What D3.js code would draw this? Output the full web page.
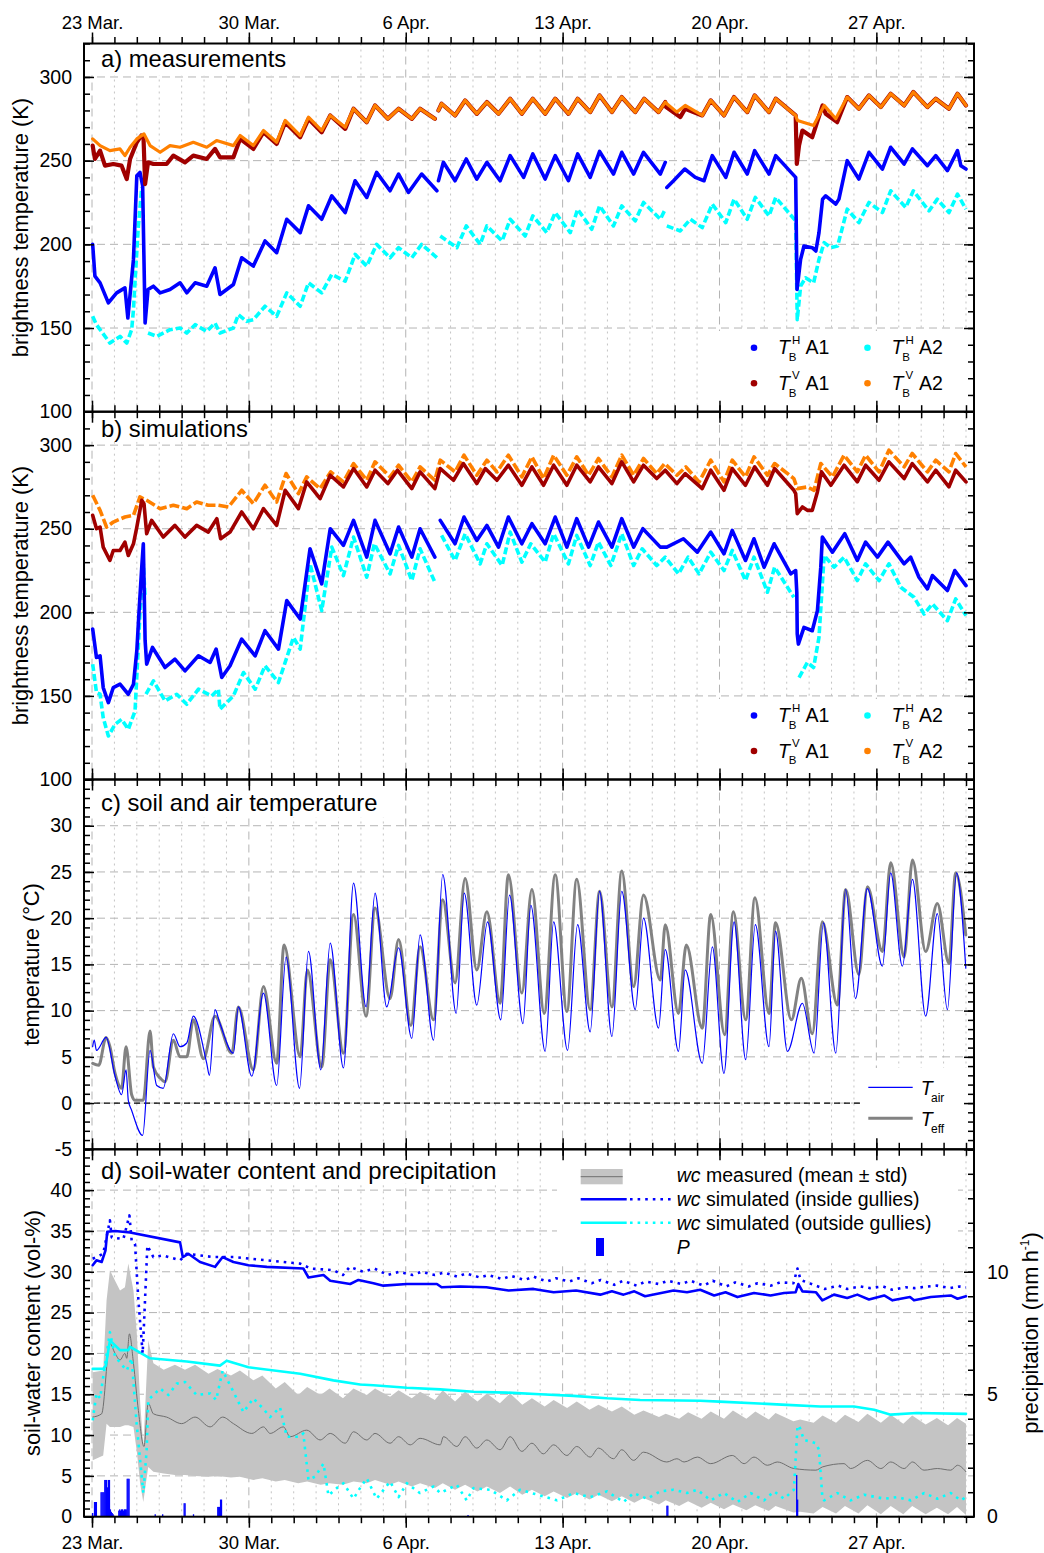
<!DOCTYPE html>
<html>
<head>
<meta charset="utf-8">
<script src="https://cdn.jsdelivr.net/npm/d3@7"></script>
<style>
  body { margin: 0; background: #fff; }
  svg { font-family: "Liberation Sans", Arial, Helvetica, sans-serif; }
</style>
</head>
<body>
<svg id="chart" width="1044" height="1553"></svg>
<script>
// time is given in days since 23 Mar 00:00
// a) measured brightness temperature (K)
var measH_A1 = [[0.03,200],[0.13,181],[0.36,177],[0.73,165],[1.1,171],[1.47,174],[1.6,156],[1.85,191],[2.0,241],[2.14,243],[2.26,235],[2.37,153],[2.5,173],[2.74,175],[3.04,171],[3.48,173],[3.93,177],[4.23,171],[4.6,177],[5.12,175],[5.49,186],[5.71,170],[6.31,176],[6.68,192],[7.2,187],[7.72,202],[8.24,195],[8.69,215],[9.29,207],[9.66,223],[10.25,215],[10.7,229],[11.3,219],[11.74,238],[12.26,228],[12.7,243],[13.3,232],[13.68,242],[14.12,231],[14.71,242],[15.39,232],[15.42,null],[15.46,238],[15.68,249],[16.2,238],[16.7,251],[17.17,239],[17.62,249],[18.21,238],[18.66,253],[19.26,240],[19.67,254],[20.22,239],[20.67,253],[21.26,238],[21.67,254],[22.23,240],[22.65,255.5],[23.27,242],[23.64,255],[24.17,242],[24.61,255],[25.36,242],[25.58,249],[25.62,null],[25.65,234],[25.95,238],[26.45,245],[26.92,240],[27.31,238],[27.68,253],[28.28,240],[28.65,255],[29.24,242],[29.57,256],[30.21,242],[30.51,253],[31.4,240],[31.46,173],[31.62,191],[31.77,199],[32.14,198],[32.3,196],[32.44,207],[32.6,227],[32.74,229],[33.19,224],[33.33,227],[33.7,250],[34.22,239],[34.67,255],[35.27,245],[35.64,258],[36.24,248],[36.61,257],[37.28,247],[37.65,253],[38.17,244],[38.62,256],[38.77,247],[39.0,245]];
var measH_A2 = [[0.03,157],[0.2,152],[0.8,141],[1.25,145],[1.55,141],[1.77,149],[1.85,161],[1.96,187],[2.07,211],[2.22,234],[2.3,null],[2.5,147],[2.89,145],[3.48,149],[3.93,150],[4.23,147],[4.6,152],[5.12,148],[5.49,153],[5.71,147],[6.31,150],[6.53,158],[6.9,154],[7.2,155],[7.72,163],[8.24,157],[8.69,171],[9.29,163],[9.66,177],[10.25,171],[10.7,182],[11.3,178],[11.74,194],[12.26,187],[12.7,200],[13.3,192],[13.68,198],[14.27,192],[14.71,200],[15.39,192],[15.45,null],[15.54,205],[16.28,198],[16.7,211],[17.32,200],[17.62,211],[18.3,202],[18.66,215],[19.33,205],[19.67,217],[20.29,207],[20.67,219],[21.34,207],[21.67,221],[22.3,209],[22.65,223],[23.27,211],[23.64,223],[24.24,214],[24.61,225],[25.36,215],[25.58,221],[25.62,null],[25.65,211],[26.25,208],[26.7,215],[27.23,210],[27.68,224],[28.28,213],[28.65,227],[29.24,215],[29.6,228],[30.21,217],[30.51,228],[31.4,214],[31.47,155],[31.62,175],[31.84,180],[32.2,177],[32.44,191],[32.67,201],[32.97,198],[33.27,199],[33.7,221],[34.22,213],[34.67,225],[35.27,219],[35.64,232],[36.31,222],[36.65,232],[37.35,220],[37.72,227],[38.24,219],[38.62,230],[39.0,221]];
var measV_A1 = [[0.03,259],[0.13,251],[0.36,256],[0.58,247],[0.95,248],[1.32,247],[1.55,239],[1.7,251],[2.0,261],[2.2,265],[2.3,263],[2.37,236],[2.5,249],[2.74,248],[3.33,248],[3.63,253],[4.15,249],[4.52,253],[5.12,251],[5.49,257],[5.71,252],[6.31,252],[6.61,263],[7.2,257],[7.65,267],[8.24,260],[8.62,273],[9.29,264],[9.66,275],[10.25,267],[10.63,277],[11.3,269],[11.67,281],[12.26,273],[12.63,283],[13.2,275],[13.68,281],[14.27,275],[14.64,281],[15.3,275],[15.4,null],[15.46,280],[15.6,284],[16.2,277],[16.65,286],[17.17,278],[17.62,285],[18.14,278],[18.66,287],[19.18,278],[19.67,287],[20.22,278],[20.67,287],[21.26,278],[21.67,287],[22.23,279],[22.65,289],[23.2,279],[23.64,288],[24.24,279],[24.64,287],[25.28,279],[25.58,285],[25.62,282],[26.25,276],[26.47,281],[27.23,277],[27.61,286],[28.2,277],[28.65,288],[29.24,279],[29.57,289],[30.21,279],[30.51,287],[31.4,277],[31.45,248],[31.55,259],[31.7,268],[32.14,264],[32.6,283],[32.74,278],[33.25,273],[33.7,288],[34.22,281],[34.67,289],[35.2,282],[35.64,290],[36.24,283],[36.65,291],[37.28,282],[37.65,287],[38.24,281],[38.62,290],[39.0,283]];
var measV_A2 = [[0.03,263],[0.36,259],[0.8,256],[1.25,257],[1.47,253],[1.7,258],[2.0,263],[2.32,266],[2.59,259],[3.04,255],[3.48,259],[3.93,258],[4.52,261],[5.12,258],[5.56,262],[6.31,259],[6.61,265],[7.2,259],[7.65,268],[8.24,261],[8.62,274],[9.29,265],[9.66,276],[10.25,268],[10.63,277],[11.3,270],[11.67,281],[12.26,273],[12.63,283],[13.2,275],[13.68,281],[14.27,275],[14.64,281],[15.3,275],[15.4,null],[15.46,280],[15.6,284],[16.2,277],[16.65,286],[17.17,278],[17.62,285],[18.14,278],[18.66,287],[19.18,278],[19.67,287],[20.22,278],[20.67,287],[21.26,278],[21.67,287],[22.23,279],[22.65,289],[23.2,279],[23.64,288],[24.24,279],[24.64,287],[25.28,279],[25.58,285],[25.65,284],[26.1,279],[26.47,283],[27.23,277],[27.61,286],[28.2,277],[28.65,288],[29.24,279],[29.57,289],[30.21,279],[30.51,287],[31.4,277],[31.48,274],[32.2,271],[32.67,283],[33.19,275],[33.7,288],[34.22,281],[34.67,289],[35.2,282],[35.64,290],[36.24,283],[36.65,291],[37.28,282],[37.65,287],[38.24,281],[38.62,290],[39.0,283]];

// b) simulated brightness temperature (K)
var simH_A1 = [[0.03,190],[0.2,173],[0.36,174],[0.5,155],[0.73,146],[0.95,155],[1.25,157],[1.62,151],[1.85,157],[2.0,177],[2.11,203],[2.22,227],[2.29,241],[2.37,183],[2.44,169],[2.7,179],[3.26,167],[3.7,172],[4.15,165],[4.75,174],[5.27,170],[5.54,178],[5.79,161],[6.16,168],[6.68,184],[7.28,174],[7.72,189],[8.32,178],[8.69,207],[9.29,196],[9.73,238],[10.25,217],[10.63,250],[11.22,240],[11.67,255],[12.26,233],[12.63,255],[13.3,235],[13.68,251],[14.27,233],[14.64,250],[15.3,233],[15.42,null],[15.54,255],[16.2,241],[16.6,257],[17.17,243],[17.62,252],[18.14,239],[18.58,257],[19.18,241],[19.63,253],[20.22,241],[20.67,257],[21.19,239],[21.63,256],[22.16,239],[22.6,254],[23.2,239],[23.64,256],[24.17,239],[24.58,250],[25.36,239],[25.65,239],[26.39,244],[27.01,236],[27.61,248],[28.2,235],[28.57,249],[29.16,231],[29.54,244],[29.99,227],[30.44,241],[31.18,223],[31.4,225],[31.45,212],[31.47,187],[31.52,181],[31.77,191],[32.14,189],[32.37,201],[32.52,227],[32.59,245],[33.04,236],[33.59,247],[34.15,231],[34.52,242],[35.05,233],[35.52,242],[36.24,229],[36.53,233],[36.9,221],[37.28,214],[37.5,222],[38.17,213],[38.5,225],[39.0,216]];
var simH_A2 = [[0.03,169],[0.2,152],[0.36,151],[0.5,137],[0.73,126],[1.03,133],[1.32,136],[1.62,130],[1.92,141],[2.02,167],[2.14,199],[2.29,229],[2.37,209],[2.39,null],[2.41,151],[2.74,159],[3.26,147],[3.78,151],[4.23,145],[4.75,154],[5.34,150],[5.64,154],[5.71,142],[6.31,150],[6.76,164],[7.28,154],[7.72,168],[8.32,158],[8.99,185],[9.29,178],[9.73,229],[10.25,201],[10.7,239],[11.22,222],[11.67,245],[12.26,221],[12.6,241],[13.3,223],[13.68,240],[14.27,219],[14.64,238],[15.3,218],[15.42,null],[15.6,246],[16.2,231],[16.65,247],[17.32,229],[17.62,241],[18.3,228],[18.66,248],[19.18,230],[19.58,241],[20.22,230],[20.6,247],[21.26,229],[21.63,246],[22.23,228],[22.6,242],[23.15,228],[23.64,247],[24.17,228],[24.55,238],[25.2,228],[25.58,233],[26.17,223],[26.6,233],[27.09,223],[27.61,236],[28.2,225],[28.57,237],[29.16,219],[29.54,233],[30.14,212],[30.46,227],[31.32,209],[31.4,null],[31.55,161],[31.92,170],[32.2,167],[32.44,185],[32.67,234],[33.11,227],[33.56,233],[34.15,219],[34.52,229],[35.12,219],[35.56,229],[36.09,215],[36.68,209],[37.13,199],[37.5,205],[38.17,195],[38.54,208],[39.0,198]];
var simV_A1 = [[0.03,258],[0.2,250],[0.36,251],[0.5,239],[0.8,231],[0.95,237],[1.25,237],[1.47,242],[1.62,234],[1.85,241],[2.0,251],[2.22,267],[2.32,265],[2.44,247],[2.66,255],[3.18,245],[3.7,252],[4.15,245],[4.67,252],[5.19,248],[5.57,256],[5.74,244],[6.16,248],[6.68,260],[7.2,250],[7.65,262],[8.24,252],[8.62,273],[9.21,262],[9.58,278],[10.18,268],[10.63,282],[11.22,275],[11.67,286],[12.26,275],[12.63,285],[13.2,277],[13.63,285],[14.27,274],[14.64,284],[15.3,274],[15.54,286],[16.13,279],[16.57,289],[17.17,277],[17.55,286],[18.07,279],[18.58,288],[19.18,276],[19.63,287],[20.15,276],[20.6,288],[21.19,276],[21.63,288],[22.23,278],[22.6,287],[23.2,277],[23.64,290],[24.17,278],[24.61,288],[25.2,280],[25.58,285],[26.1,277],[26.47,283],[27.23,274],[27.61,285],[28.2,273],[28.57,286],[29.16,276],[29.57,287],[30.14,276],[30.46,286],[31.32,273],[31.4,271],[31.47,259],[31.7,263],[31.92,261],[32.14,261],[32.37,272],[32.55,284],[32.97,276],[33.56,288],[34.15,278],[34.52,288],[35.12,279],[35.56,290],[36.24,280],[36.6,289],[37.28,278],[37.65,285],[38.24,275],[38.54,285],[39.0,278]];
var simV_A2 = [[0.03,270],[0.36,261],[0.65,251],[0.95,254],[1.47,257],[1.85,258],[2.14,269],[2.44,267],[3.04,262],[3.63,264],[4.23,262],[4.67,266],[5.19,264],[5.64,264],[6.09,263],[6.68,273],[7.2,265],[7.72,276],[8.24,266],[8.66,283],[9.21,271],[9.58,281],[10.18,274],[10.65,284],[11.22,278],[11.67,289],[12.26,279],[12.63,290],[13.3,281],[13.68,288],[14.27,278],[14.64,287],[15.3,279],[15.54,291],[16.2,284],[16.6,294],[17.17,282],[17.62,291],[18.07,284],[18.58,294],[19.18,281],[19.63,293],[20.15,280],[20.6,294],[21.19,282],[21.63,293],[22.16,282],[22.6,292],[23.2,281],[23.64,294],[24.17,282],[24.61,292],[25.2,283],[25.55,289],[26.1,282],[26.5,287],[27.09,278],[27.61,291],[28.2,278],[28.57,291],[29.16,281],[29.54,293],[30.14,282],[30.46,289],[31.32,280],[31.47,274],[31.92,275],[32.22,273],[32.52,289],[33.04,281],[33.56,294],[34.15,284],[34.52,294],[35.12,284],[35.56,297],[36.24,287],[36.6,295],[37.28,284],[37.65,291],[38.24,284],[38.54,295],[39.0,287]];

// c) temperatures (°C)
var tEff = [[0.03,4.3],[0.3,4.1],[0.63,7.1],[0.8,6.1],[1.03,3.2],[1.32,1.6],[1.52,6.1],[1.77,0.9],[1.92,0.3],[2.29,0.3],[2.59,7.8],[2.74,3.9],[3.04,2.7],[3.26,2.3],[3.63,6.8],[3.93,5.0],[4.23,5.0],[4.52,9.0],[4.97,4.8],[5.49,9.4],[6.24,5.4],[6.53,10.4],[7.2,3.6],[7.65,12.6],[8.24,4.3],[8.57,17.1],[9.29,5.0],[9.61,14.4],[10.25,3.9],[10.63,15.5],[11.22,5.4],[11.67,20.4],[12.23,9.4],[12.63,21.1],[13.3,11.3],[13.68,17.7],[14.23,8.4],[14.64,16.9],[15.24,9.0],[15.65,22.0],[16.2,13.0],[16.65,24.3],[17.17,14.4],[17.62,20.7],[18.21,10.8],[18.58,24.7],[19.18,11.9],[19.63,23.1],[20.18,9.7],[20.67,24.7],[21.19,9.9],[21.63,24.2],[22.23,10.1],[22.65,22.9],[23.2,10.4],[23.64,25.1],[24.17,12.6],[24.61,22.5],[25.36,13.3],[25.58,19.3],[26.17,9.7],[26.52,17.1],[27.23,8.1],[27.61,20.4],[28.23,7.4],[28.62,20.7],[29.17,9.0],[29.58,22.2],[30.21,9.7],[30.5,19.5],[31.21,9.0],[31.65,13.5],[32.14,7.5],[32.59,19.6],[33.26,10.6],[33.63,23.1],[34.22,13.9],[34.6,23.4],[35.27,16.4],[35.64,26.0],[36.24,15.8],[36.61,26.3],[37.2,16.4],[37.72,21.6],[38.24,15.1],[38.54,24.9],[38.99,18.2]];
var tAir = [[0.03,6.1],[0.1,6.8],[0.2,5.7],[0.63,7.1],[1.03,2.9],[1.32,0.9],[1.52,3.6],[1.62,0.3],[1.77,-0.8],[2.26,-3.5],[2.59,5.7],[2.89,1.9],[3.18,1.6],[3.63,7.5],[3.93,6.1],[4.23,6.5],[4.52,9.4],[5.12,4.3],[5.24,3.0],[5.49,10.1],[5.71,8.6],[6.31,5.4],[6.53,10.4],[7.13,2.9],[7.65,11.9],[8.24,1.9],[8.66,15.8],[9.26,1.6],[9.66,16.4],[10.21,3.6],[10.63,17.3],[11.22,3.8],[11.67,23.8],[12.23,10.4],[12.63,22.7],[13.15,10.4],[13.68,16.8],[14.27,7.0],[14.64,18.2],[15.24,6.8],[15.65,24.7],[16.25,9.7],[16.61,22.7],[17.17,10.6],[17.65,19.6],[18.24,9.0],[18.63,22.5],[19.23,8.6],[19.58,21.4],[20.22,5.6],[20.6,19.6],[21.22,5.7],[21.67,19.3],[22.23,7.7],[22.65,22.9],[23.2,7.2],[23.64,22.9],[24.24,10.1],[24.61,20.0],[25.28,8.1],[25.58,16.6],[26.17,5.6],[26.47,14.4],[27.23,4.3],[27.68,16.9],[28.2,3.2],[28.65,19.6],[29.17,4.7],[29.6,19.3],[30.21,6.1],[30.5,18.6],[31.03,5.6],[31.7,10.8],[32.22,5.4],[32.64,19.5],[33.19,5.4],[33.63,23.1],[34.07,11.3],[34.6,23.2],[35.27,14.8],[35.64,24.9],[36.16,14.8],[36.61,24.2],[37.2,9.4],[37.72,20.5],[38.17,10.1],[38.58,24.9],[38.99,14.6]];

// d) soil-water content (vol-%): measured mean, std band [t, low, high], simulations
var wcMean = [[0.03,12.2],[0.43,12.6],[0.8,21.2],[1.03,20.0],[1.25,19.2],[1.47,20.0],[1.55,19.4],[1.67,22.4],[1.85,18.8],[2.07,13.0],[2.32,8.6],[2.51,13.9],[2.74,12.6],[3.33,12.2],[4.0,11.4],[4.6,12.2],[5.27,11.0],[5.83,12.2],[6.31,11.4],[7.13,10.2],[7.65,11.0],[7.95,10.2],[8.54,11.0],[8.84,9.8],[9.58,10.6],[10.18,9.4],[10.63,10.2],[11.3,9.0],[11.67,10.4],[12.26,9.4],[12.63,10.2],[13.3,9.0],[13.68,9.8],[14.2,8.8],[14.64,9.6],[15.54,8.8],[15.68,9.8],[16.28,8.6],[16.65,9.8],[17.17,8.4],[17.62,9.4],[18.21,8.2],[18.66,9.8],[19.18,8.0],[19.63,9.0],[20.14,7.7],[20.6,8.8],[21.19,7.5],[21.63,8.6],[22.23,7.3],[22.6,8.4],[23.27,7.1],[23.64,8.2],[24.17,6.9],[24.61,7.9],[25.65,6.7],[26.1,7.1],[26.42,6.7],[27.01,7.3],[27.61,6.5],[28.57,7.5],[29.1,6.5],[29.54,7.3],[30.14,6.3],[30.58,6.7],[31.32,5.9],[32.3,5.7],[32.6,6.1],[33.56,6.5],[33.85,5.9],[34.6,6.9],[35.2,5.9],[35.64,6.7],[36.24,5.9],[36.61,6.7],[37.13,5.7],[37.72,5.9],[38.32,5.7],[38.62,6.3],[39.0,5.5]];
var wcStd = [[0.03,6.9,17.7],[0.5,7.5,17.9],[0.65,11.4,26.5],[0.8,11.0,30.2],[1.03,11.0,28.9],[1.25,11.0,27.7],[1.47,11.2,28.1],[1.62,11.2,31.0],[1.85,11.0,27.7],[2.0,8.0,22.4],[2.15,4.0,14.0],[2.29,1.8,8.5],[2.4,4.0,15.0],[2.51,6.1,21.6],[2.74,5.5,18.8],[3.2,5.3,18.0],[3.7,5.1,18.6],[4.15,5.1,18.0],[4.6,5.0,18.6],[5.2,4.9,17.5],[5.6,5.0,18.1],[6.2,4.8,17.3],[6.6,4.9,17.9],[7.2,4.5,16.7],[7.6,4.7,17.3],[8.2,4.3,15.7],[8.6,4.5,16.5],[9.2,4.1,14.9],[9.6,4.3,15.9],[10.2,3.9,14.9],[10.6,4.1,15.7],[11.2,3.9,14.5],[11.67,4.3,15.7],[12.26,4.1,14.9],[12.63,4.5,15.7],[13.3,3.9,14.7],[13.68,4.3,15.5],[14.27,3.7,14.5],[14.64,4.1,15.3],[15.3,3.5,14.3],[15.65,4.1,15.5],[16.2,3.3,14.1],[16.65,3.9,15.3],[17.2,3.1,14.1],[17.62,3.7,15.1],[18.2,2.9,13.9],[18.66,3.7,15.1],[19.2,2.7,13.7],[19.63,3.3,14.5],[20.2,2.5,13.5],[20.6,3.1,14.3],[21.2,2.3,13.3],[21.63,2.9,14.1],[22.2,2.1,13.1],[22.6,2.7,13.7],[23.2,1.9,12.9],[23.64,2.5,13.5],[24.2,1.7,12.5],[24.61,2.3,13.0],[25.3,1.5,12.2],[25.6,2.0,12.6],[26.2,1.3,12.0],[26.6,1.9,12.8],[27.2,1.1,12.0],[27.61,1.7,12.9],[28.2,0.9,12.0],[28.6,1.5,13.0],[29.2,0.8,12.0],[29.6,1.4,12.9],[30.2,0.7,11.9],[30.5,1.3,12.7],[31.3,0.5,11.7],[31.6,0.6,11.9],[32.2,0.4,11.5],[32.6,1.2,12.4],[33.2,0.4,11.5],[33.6,1.3,12.5],[34.2,0.4,11.6],[34.6,1.4,12.6],[35.2,0.3,11.5],[35.64,1.3,12.5],[36.2,0.3,11.4],[36.6,1.3,12.4],[37.2,0.3,11.3],[37.7,1.1,12.1],[38.2,0.3,11.2],[38.6,1.2,12.1],[39.0,0.2,11.4]];
var wcInside = [[0.03,30.8],[0.2,31.4],[0.43,31.2],[0.6,32.6],[0.68,34.9],[1.03,35.0],[1.7,34.8],[3.93,33.6],[4.05,31.8],[4.3,32.2],[4.82,31.2],[5.49,30.6],[5.83,31.8],[6.31,31.2],[6.98,30.8],[7.8,30.6],[9.43,30.4],[9.66,29.3],[10.33,29.6],[10.63,28.9],[11.52,28.5],[11.89,29.0],[12.56,28.6],[13.0,28.3],[14.05,28.5],[15.39,28.5],[15.6,28.1],[16.43,28.2],[17.6,28.1],[18.59,27.7],[19.7,27.9],[20.6,27.5],[21.6,27.7],[22.68,27.2],[23.2,27.6],[23.72,27.2],[24.2,27.6],[24.68,27.0],[25.95,27.7],[26.55,27.5],[27.14,27.8],[27.76,27.1],[28.27,27.5],[28.8,26.9],[29.54,27.4],[30.28,27.1],[30.88,27.4],[31.4,27.5],[31.52,28.5],[31.7,27.6],[32.3,27.5],[32.59,26.5],[33.11,27.2],[33.7,26.8],[34.15,27.2],[34.67,26.6],[35.35,27.1],[35.72,26.5],[36.5,26.9],[36.68,26.5],[37.43,26.9],[38.32,27.1],[38.62,26.7],[39.0,27.0]];
var wcInsideDot = [[0.03,31.6],[0.5,32.2],[0.8,36.3],[0.88,34.2],[1.4,34.0],[1.67,36.9],[1.77,33.8],[1.92,33.4],[2.07,26.5],[2.26,20.0],[2.32,23.6],[2.47,33.2],[2.74,31.8],[3.18,32.0],[3.93,31.4],[4.23,32.2],[5.42,31.8],[6.31,31.8],[7.8,31.4],[9.29,31.0],[9.75,30.4],[10.77,30.2],[11.2,29.6],[11.5,30.6],[12.1,30.0],[12.6,30.4],[13.2,29.6],[13.7,30.0],[14.3,29.6],[14.7,30.0],[15.3,29.6],[15.7,29.9],[16.3,29.4],[16.7,29.8],[17.3,29.3],[17.7,29.6],[18.3,29.1],[18.7,29.5],[19.3,29.0],[19.7,29.4],[20.3,28.8],[20.7,29.2],[21.3,28.8],[21.7,29.2],[22.3,28.6],[22.7,29.0],[23.3,28.4],[23.7,28.9],[24.3,28.3],[24.7,28.8],[25.3,28.5],[25.7,28.9],[26.3,28.5],[26.7,28.9],[27.3,28.3],[27.7,28.9],[28.3,28.2],[28.7,28.7],[29.3,28.2],[29.7,28.6],[30.3,28.3],[30.7,28.7],[31.3,28.6],[31.48,30.4],[31.62,29.0],[32.3,28.3],[32.7,27.9],[33.3,28.3],[33.7,27.9],[34.3,28.2],[34.7,28.0],[35.3,28.2],[35.7,27.8],[36.3,28.1],[36.7,28.0],[37.3,28.2],[37.7,28.3],[38.3,28.0],[38.7,28.2],[39.0,28.1]];
var wcOutside = [[0.03,18.1],[0.5,18.1],[0.62,18.5],[0.8,21.6],[1.25,20.4],[1.62,20.4],[1.7,20.8],[2.59,19.4],[4.23,19.0],[5.71,18.5],[6.01,19.1],[6.98,18.3],[9.29,17.5],[10.77,16.7],[11.96,16.2],[12.56,16.1],[14.05,15.8],[15.54,15.6],[17.02,15.3],[18.51,15.2],[20.0,15.0],[21.49,14.8],[22.98,14.5],[24.46,14.3],[27.14,14.2],[28.0,14.1],[31.0,13.7],[32.5,13.5],[34.0,13.5],[34.9,13.1],[35.64,12.5],[36.8,12.7],[39.0,12.6]];
var wcOutsideDot = [[0.03,11.8],[0.2,15.1],[0.36,14.5],[0.8,22.6],[1.03,19.6],[1.55,17.9],[1.77,19.4],[1.99,11.4],[2.29,2.9],[2.44,8.2],[2.51,14.3],[3.04,15.7],[3.41,14.9],[3.78,16.3],[4.15,16.5],[4.67,14.9],[5.27,15.1],[5.54,14.3],[5.83,17.9],[6.31,15.3],[6.76,12.8],[7.2,14.5],[7.65,13.2],[7.95,12.2],[8.39,13.4],[8.69,9.8],[9.29,9.8],[9.43,10.2],[9.66,4.5],[9.95,4.9],[10.33,6.5],[10.55,2.6],[10.92,3.5],[11.22,4.1],[11.67,2.2],[11.96,3.5],[12.26,4.7],[12.7,2.2],[13.3,4.3],[13.68,2.4],[14.05,4.1],[14.63,2.9],[15.24,3.7],[15.54,2.9],[16.28,3.9],[16.72,2.0],[17.02,3.5],[17.77,3.3],[18.51,2.0],[19.1,3.3],[20.0,2.6],[20.75,2.0],[21.49,2.9],[22.23,2.4],[22.98,3.1],[23.72,1.8],[24.17,2.9],[24.76,2.2],[25.36,3.1],[25.95,3.3],[26.55,2.9],[27.01,3.3],[27.61,2.0],[28.2,2.9],[28.8,1.8],[29.39,2.9],[29.99,2.0],[30.43,3.1],[30.88,2.2],[31.32,3.3],[31.48,11.0],[31.55,11.2],[31.77,9.4],[32.3,9.0],[32.44,8.2],[32.59,2.4],[32.67,2.0],[33.26,2.9],[33.85,2.0],[34.45,2.7],[35.35,2.2],[35.94,2.4],[36.53,2.0],[37.13,2.9],[37.72,2.2],[38.32,2.9],[38.76,2.0],[39.0,2.4]];
// hourly precipitation [hour since 23 Mar 00:00, mm/h]
var precip = [[0,0.15],[2,0.6],[3,0.6],[4,0.6],[9,1.0],[10,1.0],[11,1.0],[12,1.0],[13,1.5],[14,1.5],[15,1.5],[16,1.2],[17,1.5],[18,1.5],[19,0.3],[20,0.2],[21,0.15],[22,0.1],[28,0.25],[29,0.3],[30,0.25],[31,0.3],[32,0.3],[33,0.25],[34,0.3],[35,0.3],[36,0.3],[37,1.55],[38,1.55],[39,1.55],[67,0.1],[75,0.1],[98,0.55],[99,0.55],[108,0.1],[134,0.4],[135,0.4],[136,0.4],[137,0.7],[138,0.7],[402,0.07],[615,0.45],[616,0.45],[754,1.7],[755,0.7]];

// tick labels
var tbTicks = [100, 150, 200, 250, 300];
var tempTicks = [-5, 0, 5, 10, 15, 20, 25, 30];
var wcTicks = [0, 5, 10, 15, 20, 25, 30, 35, 40];
var precipTicks = [0, 5, 10];

var svg = d3.select('#chart');
var day0 = Date.UTC(2013, 2, 23);
function when(t) { return new Date(day0 + t * 86400000); }

var L = 84, R = 974;
var x = d3.scaleUtc().domain([when(-0.357), when(39.357)]).range([L, R]);
var dayTicks = d3.range(0, 40).map(when);
var weekTicks = d3.range(0, 36, 7).map(when);

var panels = [
	{ top: 43.5, bottom: 411.7, lo: 100, hi: 320, major: tbTicks, step: 10, label: 'a) measurements', labelY: 66.5, title: 'brightness temperature (K)', titleX: 27.5 },
	{ top: 411.7, bottom: 779.5, lo: 100, hi: 320, major: tbTicks, step: 10, label: 'b) simulations', labelY: 436.5, title: 'brightness temperature (K)', titleX: 27.5 },
	{ top: 779.5, bottom: 1149.3, lo: -5, hi: 35, major: tempTicks, step: 1, label: 'c) soil and air temperature', labelY: 810.5, title: 'temperature (°C)', titleX: 39 },
	{ top: 1149.3, bottom: 1516.7, lo: 0, hi: 45, major: wcTicks, step: 1, label: 'd) soil-water content and precipitation', labelY: 1178.5, title: 'soil-water content (vol-%)', titleX: 40 }
];

function cleanAxis(g, size) {
	g.attr('font-size', size).attr('font-family', null);
	g.select('.domain').remove();
	g.selectAll('.tick line').attr('stroke-width', 1.5);
}

panels.forEach(function(p, i) {
	p.y = d3.scaleLinear().domain([p.lo, p.hi]).range([p.bottom, p.top]);
	var grid = svg.append('g');
	// daily dotted, weekly dashed
	grid.selectAll('line.v').data(dayTicks).enter().append('line')
		.attr('x1', function(d) { return x(d); }).attr('x2', function(d) { return x(d); })
		.attr('y1', p.top).attr('y2', p.bottom)
		.attr('stroke', function(d, j) { return j % 7 === 0 ? '#b4b4b4' : '#c4c4c4'; })
		.attr('stroke-dasharray', function(d, j) { return j % 7 === 0 ? '8,5' : '2,4'; })
		.attr('stroke-width', 1);
	grid.selectAll('line.h').data(p.major.filter(function(v) { return v > p.lo; })).enter().append('line')
		.attr('x1', L).attr('x2', R)
		.attr('y1', function(d) { return p.y(d); }).attr('y2', function(d) { return p.y(d); })
		.attr('stroke', '#b4b4b4').attr('stroke-dasharray', '8,5').attr('stroke-width', 1);

	svg.append('clipPath').attr('id', 'clip' + i).append('rect')
		.attr('x', L).attr('y', p.top).attr('width', R - L).attr('height', p.bottom - p.top);
	p.layer = svg.append('g').attr('clip-path', 'url(#clip' + i + ')');
});

// white boxes behind panel labels and legends
[[85, 44.5, 255, 31], [85, 412.7, 175, 29], [85, 780.5, 300, 37], [85, 1150.3, 418, 33],
 [704, 331, 269, 80], [704, 699, 269, 80], [864, 1068, 109, 81], [557, 1150.3, 401, 112]].forEach(function(b) {
	svg.append('rect').attr('x', b[0]).attr('y', b[1]).attr('width', b[2]).attr('height', b[3]).attr('fill', '#fff');
});

function drawLine(p, data, color, width, dash, curve) {
	var line = d3.line()
		.defined(function(d) { return d[1] !== null; })
		.curve(curve || d3.curveLinear)
		.x(function(d) { return x(when(d[0])); })
		.y(function(d) { return p.y(d[1]); });
	p.layer.append('path').datum(data)
		.attr('d', line)
		.attr('fill', 'none')
		.attr('stroke', color)
		.attr('stroke-width', width)
		.attr('stroke-linejoin', 'round')
		.attr('stroke-linecap', dash ? 'butt' : 'round')
		.attr('stroke-dasharray', dash || null);
}

var blue = '#0000ff', cyan = '#00ffff', brown = '#a00000', orange = '#ff8000';
var smooth = d3.curveMonotoneX;

// a)
drawLine(panels[0], measH_A2, cyan, 3.6, '7,3');
drawLine(panels[0], measH_A1, blue, 3.6);
drawLine(panels[0], measV_A1, brown, 4.2);
drawLine(panels[0], measV_A2, orange, 3.2);
// b)
drawLine(panels[1], simH_A2, cyan, 3.6, '7,3');
drawLine(panels[1], simH_A1, blue, 3.6);
drawLine(panels[1], simV_A2, orange, 3.6, '10,3');
drawLine(panels[1], simV_A1, brown, 3.6);
// c)
var pc = panels[2];
pc.layer.append('line').attr('x1', L).attr('x2', 864)
	.attr('y1', pc.y(0)).attr('y2', pc.y(0))
	.attr('stroke', '#000').attr('stroke-width', 1.3).attr('stroke-dasharray', '6,4');
drawLine(pc, tEff, '#828282', 3, null, smooth);
drawLine(pc, tAir, '#0000ff', 1.2, null, smooth);
// d)
var pd = panels[3];
var yP = d3.scaleLinear().domain([0, 15]).range([pd.bottom, pd.top]);
pd.layer.append('path').datum(wcStd)
	.attr('d', d3.area()
		.x(function(d) { return x(when(d[0])); })
		.y0(function(d) { return pd.y(d[1]); })
		.y1(function(d) { return pd.y(d[2]); }))
	.attr('fill', '#c4c4c4');
drawLine(pd, wcMean, '#6e6e6e', 1, null, smooth);
drawLine(pd, wcOutside, cyan, 2.6);
drawLine(pd, wcOutsideDot, cyan, 2.6, '2.6,5');
drawLine(pd, wcInside, blue, 2.6);
drawLine(pd, wcInsideDot, blue, 2.6, '2.6,5');
pd.layer.selectAll('rect.p').data(precip).enter().append('rect')
	.attr('x', function(d) { return x(when(d[0] / 24)); })
	.attr('width', function(d) { return Math.max(1.3, x(when((d[0] + 1) / 24)) - x(when(d[0] / 24)) + 0.3); })
	.attr('y', function(d) { return yP(d[1]); })
	.attr('height', function(d) { return yP(0) - yP(d[1]); })
	.attr('fill', blue);

// axes, frames, labels
panels.forEach(function(p, i) {
	var minor = d3.range(p.lo, p.hi + 0.001, p.step);
	svg.append('g').attr('transform', 'translate(' + L + ',0)')
		.call(d3.axisLeft(p.y).tickValues(minor).tickSize(-6).tickFormat(''))
		.call(cleanAxis, 19.5);
	svg.append('g').attr('transform', 'translate(' + L + ',0)')
		.call(d3.axisLeft(p.y).tickValues(p.major).tickSize(-10).tickPadding(12).tickFormat(String))
		.call(cleanAxis, 19.5);
	if (i < 3) {
		svg.append('g').attr('transform', 'translate(' + R + ',0)')
			.call(d3.axisRight(p.y).tickValues(minor).tickSize(-6).tickFormat(''))
			.call(cleanAxis, 19.5);
		svg.append('g').attr('transform', 'translate(' + R + ',0)')
			.call(d3.axisRight(p.y).tickValues(p.major).tickSize(-10).tickFormat(''))
			.call(cleanAxis, 19.5);
	}
	// x ticks, outward on top and bottom
	svg.append('g').attr('transform', 'translate(0,' + p.top + ')')
		.call(d3.axisTop(x).tickValues(dayTicks).tickSize(6.5).tickFormat(''))
		.call(cleanAxis, 19);
	svg.append('g').attr('transform', 'translate(0,' + p.top + ')')
		.call(d3.axisTop(x).tickValues(weekTicks).tickSize(11).tickPadding(4)
			.tickFormat(i === 0 ? d3.utcFormat('%-d %b.') : ''))
		.call(cleanAxis, 18.5);
	svg.append('g').attr('transform', 'translate(0,' + p.bottom + ')')
		.call(d3.axisBottom(x).tickValues(dayTicks).tickSize(6.5).tickFormat(''))
		.call(cleanAxis, 19);
	svg.append('g').attr('transform', 'translate(0,' + p.bottom + ')')
		.call(d3.axisBottom(x).tickValues(weekTicks).tickSize(11).tickPadding(8)
			.tickFormat(i === 3 ? d3.utcFormat('%-d %b.') : ''))
		.call(cleanAxis, 18.5);

	svg.append('rect').attr('x', L).attr('y', p.top).attr('width', R - L).attr('height', p.bottom - p.top)
		.attr('fill', 'none').attr('stroke', '#000').attr('stroke-width', 2);

	svg.append('text').attr('x', 101).attr('y', p.labelY).attr('font-size', 23.8).text(p.label);
	svg.append('text').attr('transform', 'translate(' + p.titleX + ',' + ((p.top + p.bottom) / 2) + ') rotate(-90)')
		.attr('text-anchor', 'middle').attr('font-size', 21.8).text(p.title);
});

// precipitation axis on the right of d)
svg.append('g').attr('transform', 'translate(' + R + ',0)')
	.call(d3.axisRight(yP).tickValues(d3.range(0, 16, 1)).tickSize(-6).tickFormat(''))
	.call(cleanAxis, 19.5);
svg.append('g').attr('transform', 'translate(' + R + ',0)')
	.call(d3.axisRight(yP).tickValues(precipTicks).tickSize(-10).tickPadding(13).tickFormat(String))
	.call(cleanAxis, 19.5);
var pt = svg.append('text').attr('transform', 'translate(1038,' + ((pd.top + pd.bottom) / 2) + ') rotate(-90)')
	.attr('text-anchor', 'middle').attr('font-size', 21.8);
pt.append('tspan').text('precipitation (mm\u2009h');
pt.append('tspan').attr('font-size', 12).attr('dy', -9).text('-1');
pt.append('tspan').attr('dy', 9).text(')');

// legends a) and b)
function tbLegend(cx, cy, color, pol, ant) {
	svg.append('circle').attr('cx', cx).attr('cy', cy).attr('r', 3.3).attr('fill', color);
	svg.append('text').attr('x', cx + 24).attr('y', cy + 6.5).attr('font-size', 19.5).attr('font-style', 'italic').text('T');
	svg.append('text').attr('x', cx + 38).attr('y', cy - 4).attr('font-size', 11.5).text(pol);
	svg.append('text').attr('x', cx + 34.7).attr('y', cy + 13.3).attr('font-size', 11.5).text('B');
	svg.append('text').attr('x', cx + 51.4).attr('y', cy + 6.5).attr('font-size', 19.5).text(ant);
}
[panels[0], panels[1]].forEach(function(p) {
	tbLegend(754, p.bottom - 64, blue, 'H', 'A1');
	tbLegend(867.5, p.bottom - 64, cyan, 'H', 'A2');
	tbLegend(754, p.bottom - 28.5, brown, 'V', 'A1');
	tbLegend(867.5, p.bottom - 28.5, orange, 'V', 'A2');
});

// legend c)
[['air', '#0000ff', 1.2, 1087.3], ['eff', '#828282', 3, 1118.3]].forEach(function(e) {
	svg.append('line').attr('x1', 868.3).attr('x2', 912.7).attr('y1', e[3]).attr('y2', e[3])
		.attr('stroke', e[1]).attr('stroke-width', e[2]);
	svg.append('text').attr('x', 920.7).attr('y', e[3] + 7.7).attr('font-size', 19.5).attr('font-style', 'italic').text('T');
	svg.append('text').attr('x', 931).attr('y', e[3] + 14.4).attr('font-size', 12).text(e[0]);
});

// legend d)
var lg = svg.append('g');
lg.append('rect').attr('x', 580.7).attr('y', 1169).attr('width', 42).attr('height', 15.3).attr('fill', '#c4c4c4');
lg.append('line').attr('x1', 580.7).attr('x2', 622.7).attr('y1', 1176.7).attr('y2', 1176.7).attr('stroke', '#6e6e6e').attr('stroke-width', 1);
[[1199.3, blue], [1222.7, cyan]].forEach(function(r) {
	lg.append('line').attr('x1', 580.7).attr('x2', 626.7).attr('y1', r[0]).attr('y2', r[0]).attr('stroke', r[1]).attr('stroke-width', 2.6);
	lg.append('line').attr('x1', 630).attr('x2', 672).attr('y1', r[0]).attr('y2', r[0]).attr('stroke', r[1]).attr('stroke-width', 2.6).attr('stroke-dasharray', '2.6,5');
});
lg.append('rect').attr('x', 596).attr('y', 1238).attr('width', 8).attr('height', 18).attr('fill', blue);
[[1182, ' measured (mean \u00b1 std)'], [1206, ' simulated (inside gullies)'], [1230, ' simulated (outside gullies)']].forEach(function(r) {
	var t = lg.append('text').attr('x', 676.7).attr('y', r[0]).attr('font-size', 19.5);
	t.append('tspan').attr('font-style', 'italic').text('wc');
	t.append('tspan').text(r[1]);
});
lg.append('text').attr('x', 676.7).attr('y', 1254).attr('font-size', 19.5).attr('font-style', 'italic').text('P');
</script>
</body>
</html>
